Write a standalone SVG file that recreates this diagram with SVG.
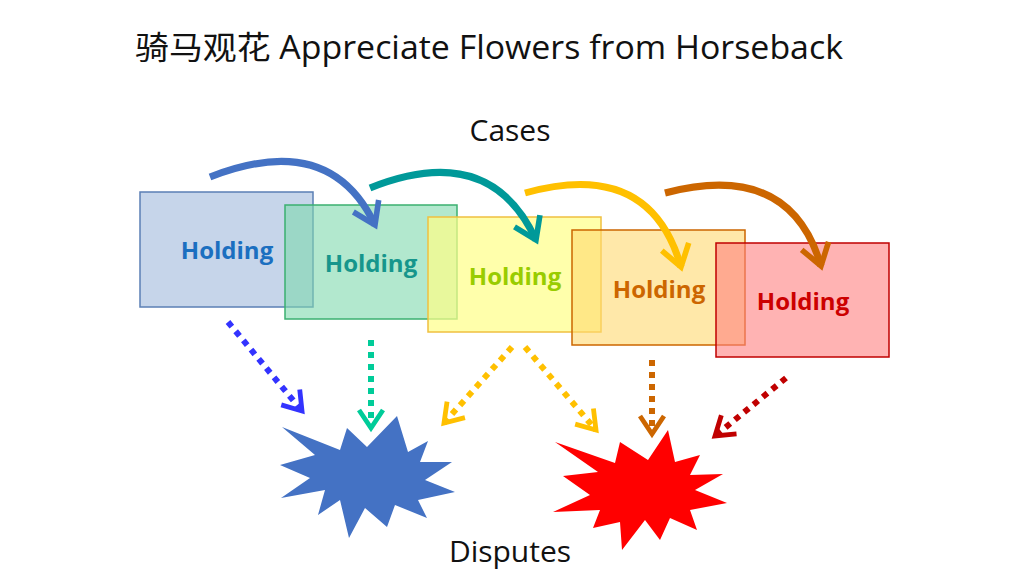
<svg xmlns="http://www.w3.org/2000/svg" width="1024" height="576" viewBox="0 0 1024 576">
<style>
.t{font-family:"Open Sans","Noto Sans CJK SC",sans-serif;fill:#111}
.h{font-family:"Open Sans",sans-serif;font-weight:bold;font-size:24px;text-anchor:middle}
.c{fill:none;stroke-width:7}
.d{fill:none;stroke-width:6;stroke-dasharray:6 6}
</style>
<defs>
<marker id="m" viewBox="0 0 10 10" refX="7" refY="5" markerWidth="5" markerHeight="5" orient="auto" markerUnits="strokeWidth"><path d="M1,1 L7,5 L1,9" fill="none" stroke="context-stroke" stroke-width="1.6"/></marker>
</defs>
<rect width="1024" height="576" fill="#fff"/>
<text class="t" x="135" y="59" font-size="32" textLength="708" lengthAdjust="spacingAndGlyphs">骑马观花 Appreciate Flowers from Horseback</text>
<text class="t" x="510" y="141" font-size="30" text-anchor="middle">Cases</text>
<text class="t" x="510" y="562" font-size="30" text-anchor="middle">Disputes</text>
<g id="n1"><rect x="140" y="192" width="173" height="115" fill="#c6d5ea" stroke="#5b7fb5" stroke-width="1.5"/><text class="h" x="227" y="259" fill="#1b6fc0">Holding</text></g>
<g id="n2"><rect x="285" y="205" width="172" height="114" fill="#7fd8ad" fill-opacity="0.6" stroke="#3bb070" stroke-width="1.5"/><text class="h" x="371" y="272" fill="#16968c">Holding</text></g>
<g id="n3"><rect x="428" y="217" width="173" height="115" fill="#ffff88" fill-opacity="0.7" stroke="#f0c040" stroke-width="1.5"/><text class="h" x="515" y="285" fill="#99cc00">Holding</text></g>
<g id="n4"><rect x="572" y="230" width="173" height="115" fill="#ffd970" fill-opacity="0.6" stroke="#cc6600" stroke-width="1.5"/><text class="h" x="659" y="298" fill="#cc6600">Holding</text></g>
<g id="n5"><rect x="716" y="243" width="173" height="114" fill="#ff8080" fill-opacity="0.6" stroke="#c00000" stroke-width="1.5"/><text class="h" x="803" y="310" fill="#cc0000">Holding</text></g>
<g id="s1"><polygon fill="#4472c4" points="282,427 340,450 347,428 367,447 397,416 408,452 428,441 420,462 452,462 425,480 455,492 418,500 427,518 395,505 387,527 365,508 349,538 340,500 318,515 325,490 281,498 310,478 280,465 315,455"/></g>
<g id="s2"><polygon fill="#ff0000" points="555,442 615,463 620,442 648,460 668,430 675,462 700,455 690,475 723,474 695,490 727,503 690,510 697,530 670,518 660,540 645,520 622,550 620,522 593,528 600,510 553,512 590,495 563,476 598,472"/></g>
<g id="connectors">
<path class="c" stroke="#4472c4" marker-end="url(#m)" d="M210,177 Q330,130 375,225"/>
<path class="c" stroke="#009999" marker-end="url(#m)" d="M370,188 Q490,140 536,240"/>
<path class="c" stroke="#ffc000" marker-end="url(#m)" d="M525,193 Q650,158 681,267"/>
<path class="c" stroke="#cc6600" marker-end="url(#m)" d="M665,193 Q790,160 821,266"/>
<path class="d" stroke="#3333ff" marker-end="url(#m)" d="M228,322 L302,411"/>
<path class="d" stroke="#00cc99" marker-end="url(#m)" d="M371,340 L371,428"/>
<path class="d" stroke="#ffc000" marker-end="url(#m)" d="M512,347 L444,423"/>
<path class="d" stroke="#ffc000" marker-end="url(#m)" d="M525,347 L596,430"/>
<path class="d" stroke="#cc6600" marker-end="url(#m)" d="M652,360 L652,434"/>
<path class="d" stroke="#c00000" marker-end="url(#m)" d="M786,378 L715,436"/>
</g>
</svg>
